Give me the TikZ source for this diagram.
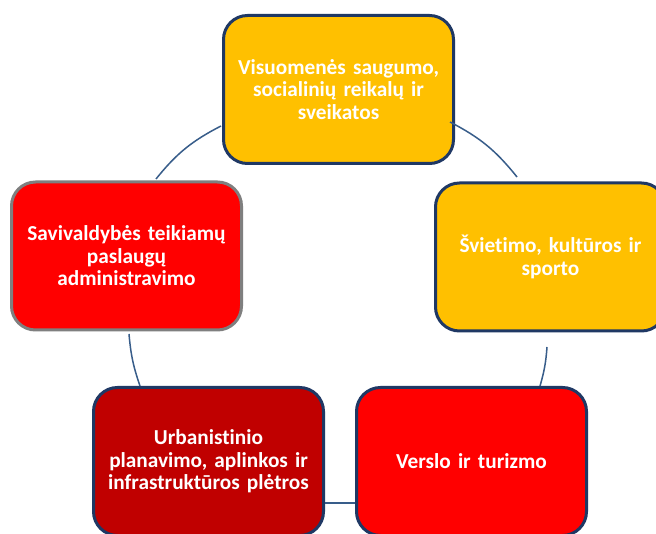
\documentclass[tikz,border=0pt]{standalone}
\usepackage{fontspec}
\setmainfont{Carlito}[Ligatures=NoCommon,WordSpace=0.85]
\definecolor{gold}{HTML}{FFC000}
\definecolor{brightred}{HTML}{FF0000}
\definecolor{darkred}{HTML}{C00000}
\definecolor{navy}{HTML}{1F3864}
\definecolor{greyb}{HTML}{7F7F7F}
\definecolor{arcblue}{HTML}{385D8A}
\begin{document}
\begin{tikzpicture}[x=1pt,y=-1pt,
  box/.style={rectangle, rounded corners=24pt, minimum width=230pt, minimum height=148pt,
    line width=3pt, draw=navy, text=white, align=center, text width=226pt,
    font=\fontsize{21.3}{22.5}\selectfont\bfseries, inner sep=0pt},
  link/.style={draw=arcblue, line width=1.5pt}]
\clip (0,0) rectangle (656,534);
\fill[white] (0,0) rectangle (656,534);
\node[box, fill=gold] (top) at (338.5,89.5) {Visuomenės saugumo,\\socialinių reikalų ir\\sveikatos};
\node[box, fill=gold] (right) at (550.5,257) {Švietimo, kultūros ir\\sporto};
\node[box, fill=brightred, draw=greyb] (left) at (126.5,256) {Savivaldybės teikiamų\\paslaugų\\administravimo};
\node[box, fill=darkred] (bl) at (208.5,461.5) {Urbanistinio\\planavimo, aplinkos ir\\infrastruktūros plėtros};
\node[box, fill=brightred] (br) at (471.5,461.5) {Verslo ir turizmo};
\coordinate (a1) at (450,122);
\coordinate (a2) at (517,177);
\coordinate (b1) at (547,347);
\coordinate (b2) at (540,386);
\coordinate (c1) at (355,503);
\coordinate (c2) at (325,503);
\coordinate (d1) at (140,386);
\coordinate (d2) at (129,334);
\coordinate (e1) at (156,179);
\coordinate (e2) at (221,126);
\draw[link] (a1) to[bend left=12] (a2);
\draw[link] (b1) to[bend left=6] (b2);
\draw[link] (c1) -- (c2);
\draw[link] (d1) to[bend left=7] (d2);
\draw[link] (e1) to[bend left=12] (e2);
\end{tikzpicture}
\end{document}
